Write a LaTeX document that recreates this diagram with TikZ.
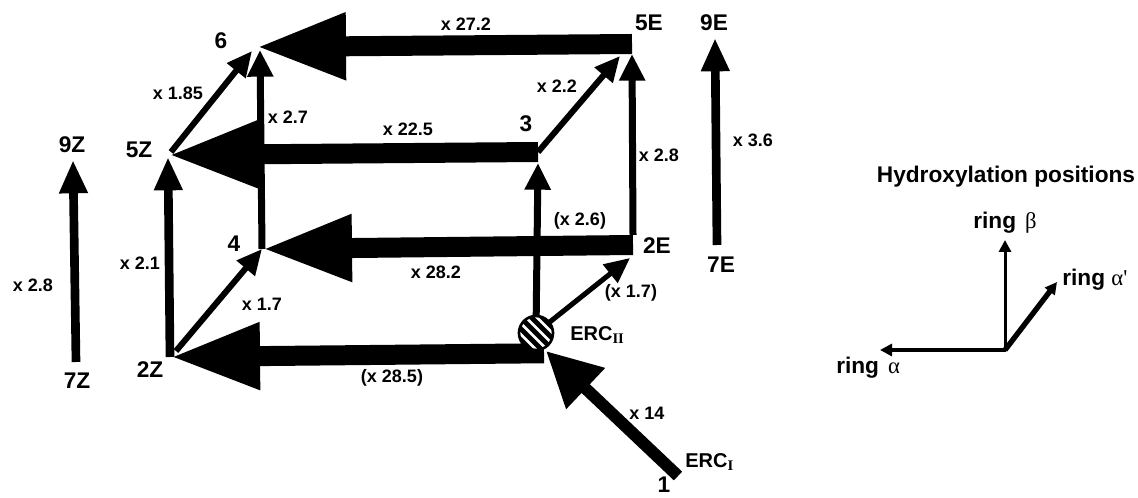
\documentclass[tikz,border=0pt]{standalone}
\usepackage{fontspec}
\setmainfont{Liberation Sans}
\newfontfamily\grk{Liberation Serif}
\usetikzlibrary{arrows.meta}

\begin{document}
\begin{tikzpicture}[x=0.75pt,y=-0.75pt,
  every node/.style={inner sep=0pt},
  lbl/.style={font=\bfseries\fontsize{17}{17}\selectfont},
  mult/.style={font=\bfseries\fontsize{13.5}{13.5}\selectfont},
  erc/.style={font=\bfseries\fontsize{15}{15}\selectfont},
  bigarrow/.style={line width=15pt,-{Triangle[length=67.5pt,width=46.5pt]}},
  inarrow/.style={line width=9pt,-{Triangle[length=41pt,width=40pt]}},
  vtarrow/.style={line width=6.5pt,-{Triangle[length=25pt,width=20pt]}},
  medarrow/.style={line width=5.25pt,-{Triangle[length=20pt,width=18.5pt]}},
  diagarrow/.style={line width=4.5pt,-{Triangle[length=19pt,width=17pt]}},
  legarrow/.style={-{Triangle[length=9pt,width=9pt]}}
]
\useasboundingbox (0,0) rectangle (1138,498);

% cube vertices
\coordinate (Z2) at (170,357);
\coordinate (Z4) at (262,249);
\coordinate (Z5) at (168,155);
\coordinate (V6) at (256,47);
\coordinate (V3) at (538,152);
\coordinate (E5) at (632,44);
\coordinate (E2) at (633,245);
\coordinate (V1) at (678,476);
% side pairs
\coordinate (Z7) at (76,362);
\coordinate (Z9) at (73,160);
\coordinate (E7) at (717,245);
\coordinate (E9) at (715,38);
% legend axes
\coordinate (O) at (1005,350);
\coordinate (Lb) at (1005,240);
\coordinate (La) at (880,350);
\coordinate (Lap) at (1057,282);

% ERC II enzyme complex (hatched disc)
\node[circle, minimum size=25.5pt, fill=black] (erc2) at (536,333) {};

% ring alpha steps (thick)
\draw[bigarrow] (E5) -- (V6);
\draw[bigarrow] (V3) -- (Z5);
\draw[bigarrow] (E2) -- (Z4);
\draw[bigarrow] ([shift={(8,3)}]erc2.south) -- (Z2);
\draw[inarrow] (V1) -- ([shift={(10,18)}]erc2.center);

% ring beta and alpha' steps
\draw[vtarrow] (Z2) -- ([shift={(0,2)}]Z5);
\draw[diagarrow] ([shift={(6,-6)}]Z2) -- (Z4);
\draw[medarrow] (Z4) -- ([shift={(4,3)}]V6);
\draw[diagarrow] ([shift={(3,-3)}]Z5) -- ([shift={(-4,4)}]V6);
\draw[diagarrow] (V3) -- ([shift={(-12,12)}]E5);
\draw[medarrow] ([shift={(0,-10)}]E2) -- ([shift={(0,10)}]E5);
\draw[medarrow] (erc2.center) -- ([shift={(0,11)}]V3);
\draw[line width=3.8pt,-{Triangle[length=19pt,width=17pt]}] (erc2.center) -- ([shift={(-3,13)}]E2);

\draw[vtarrow] (Z7) -- (Z9);
\draw[vtarrow] (E7) -- (E9);

% hatched disc drawn over the arrow ends
\node[circle, minimum size=25.5pt, fill=black, draw=black, line width=2pt,
  path picture={
    \foreach \s in {-6.2,-2.1,2.1,6.2}
      \draw[white,line width=2pt]
        ([shift={({\s*1pt-16pt},{\s*1pt+16pt})}]path picture bounding box.center) --
        ([shift={({\s*1pt+16pt},{\s*1pt-16pt})}]path picture bounding box.center);
  }] (disc) at (erc2) {};

% legend
\draw[legarrow, line width=2.25pt] (O) -- (Lb);
\draw[legarrow, line width=3pt] ([xshift=1]O) -- (La);
\draw[legarrow, line width=4pt] (O) -- (Lap);

% compound labels
\node[lbl] (t9Z) at (72,145) {9Z};
\node[lbl] (t7Z) at (77,381) {7Z};
\node[lbl] (t5Z) at (139,150) {5Z};
\node[lbl] (t2Z) at (150,370) {2Z};
\node[lbl] (t4) at (234,244) {4};
\node[lbl] (t6) at (221,41) {6};
\node[lbl] (t3) at (526,124) {3};
\node[lbl] (t5E) at (649,23) {5E};
\node[lbl] (t2E) at (657,246) {2E};
\node[lbl] (t9E) at (714,23) {9E};
\node[lbl] (t7E) at (721,265) {7E};
\node[lbl] (t1) at (664,485) {1};
\node[erc, anchor=west] (tERCII) at (570,335) {ERC\raisebox{-2pt}{\grk\fontsize{11}{11}\selectfont II}};
\node[erc, anchor=west] (tERCI) at (685,462) {ERC\raisebox{-2pt}{\grk\fontsize{11}{11}\selectfont I}};

% rate factors
\node[mult] (m185) at (178,93) {x 1.85};
\node[mult] (m27) at (288,117) {x 2.7};
\node[mult] (m225) at (408,129) {x 22.5};
\node[mult] (m272) at (466,24) {x 27.2};
\node[mult] (m22) at (557,86) {x 2.2};
\node[mult] (m28r) at (659,155) {x 2.8};
\node[mult] (m36) at (753,140) {x 3.6};
\node[mult] (m28l) at (33,285) {x 2.8};
\node[mult] (m21) at (140,263) {x 2.1};
\node[mult] (m17l) at (262,304) {x 1.7};
\node[mult] (m282) at (436,272) {x 28.2};
\node[mult] (m26) at (580,221) {(x 2.6)};
\node[mult] (m17r) at (631,293) {(x 1.7)};
\node[mult] (m285) at (392,378) {(x 28.5)};
\node[mult] (m14) at (647,413) {x 14};

% legend texts
\node[lbl] (hdr) at (1006,177) {Hydroxylation positions};
\node[lbl, anchor=base] (rb) at (1005,229) {ring\hspace{0.4em}{\grk\mdseries β}};
\node[lbl, anchor=base west] (rap) at (1062,286) {ring {\grk\mdseries α'}};
\node[lbl, anchor=base west] (ra) at (836,374) {ring\hspace{0.4em}{\grk\mdseries α}};
\end{tikzpicture}
\end{document}
